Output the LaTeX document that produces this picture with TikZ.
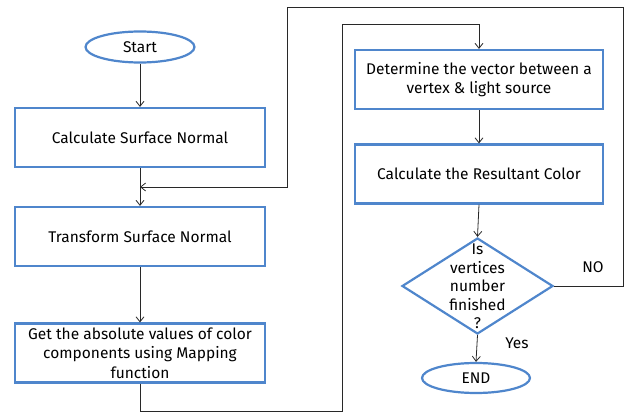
\documentclass[tikz,border=0pt]{standalone}
\usepackage{fontspec}
\setmainfont{Fira Sans}
\usetikzlibrary{shapes.geometric,arrows.meta}
\definecolor{boxblue}{RGB}{79,134,204}
\definecolor{linegray}{RGB}{40,40,40}
\tikzset{
  procbox/.style={draw=boxblue, line width=2.2pt, fill=white, rectangle,
    minimum width=250pt, minimum height=59pt, inner sep=2pt,
    align=center, font=\fontsize{15.5}{19.5}\selectfont},
  terminal/.style={draw=boxblue, line width=2.2pt, fill=white, ellipse,
    minimum width=109pt, minimum height=31pt, inner sep=0pt,
    font=\fontsize{15.5}{19}\selectfont},
  decision/.style={draw=boxblue, line width=2.2pt, diamond,
    minimum width=151pt, minimum height=96pt, inner sep=0pt},
  lbl/.style={font=\fontsize{15.5}{19}\selectfont, inner sep=0pt},
  flow/.style={draw=linegray, line width=0.8pt, -{Straight Barb[length=5pt,width=8pt]}}
}
\begin{document}
\begin{tikzpicture}[x=1pt,y=-1pt]
  \useasboundingbox (0,0) rectangle (625,412);

  % left column
  \node[terminal] (start) at (140,47) {Start};
  \node[procbox] (calc) at (140,137.5) {Calculate Surface Normal};
  \node[procbox] (trans) at (140,236.5) {Transform Surface Normal};
  \node[procbox] (getabs) at (140,353) {Get the absolute values of color\\components using Mapping\\function};

  % right column
  \node[procbox, minimum width=248pt] (vec) at (479,79.5) {Determine the vector between a\\vertex \& light source};
  \node[procbox, minimum width=248pt] (res) at (479,174) {Calculate the Resultant Color};
  \node[decision] (dec) at (477.5,286) {};
  \node[lbl, align=center, font=\fontsize{15.5}{18.5}\selectfont] (dectext) at (477.5,286.5) {Is\\vertices\\number\\finished\\?};
  \node[terminal, minimum width=108pt, minimum height=30pt] (fin) at (476,378) {END};

  \node[lbl] (no) at (593,267) {NO};
  \node[lbl] (yes) at (517,343) {Yes};

  % routing points
  \coordinate (join) at (140,187);
  \coordinate (b1) at (140,411);
  \coordinate (b2) at (342,24);
  \coordinate (n1) at (623,7);
  \coordinate (n2) at (287,187);

  % connectors
  \draw[flow] (start) -- (calc);
  \draw[flow] (calc) -- (trans);
  \draw[flow] (trans) -- (getabs);
  \draw[flow] (getabs.south) -- (b1) -| (b2) -| (vec.north);
  \draw[flow] (vec) -- (res);
  \draw[flow] (res.south) -- (dec.north);
  \draw[flow] (dec.south) -- (fin.north);
  \draw[flow] (dec.east) -| (n1) -| (n2) -- (join);
\end{tikzpicture}
\end{document}
